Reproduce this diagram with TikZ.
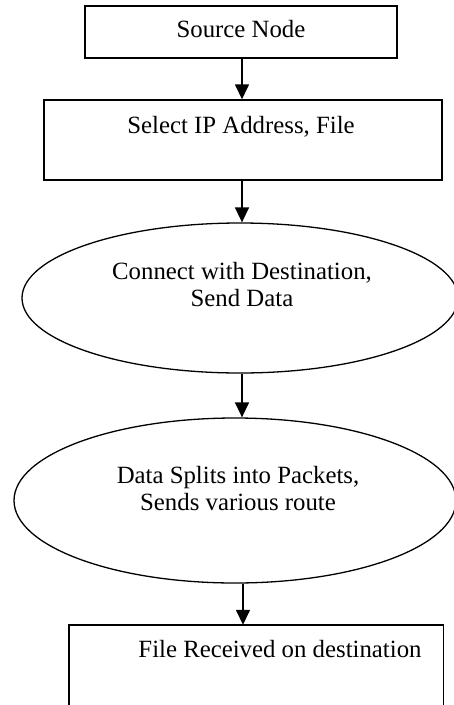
\documentclass[tikz,border=0pt]{standalone}
\usepackage{fontspec}
\setmainfont{Liberation Serif}
\usetikzlibrary{shapes.geometric,arrows.meta}
\begin{document}
\begin{tikzpicture}[x=1pt,y=-1pt,
  lbl/.style={font=\fontsize{24.8}{27}\selectfont, inner sep=0pt, align=center},
  boxshape/.style={draw, line width=1.4pt, rectangle, inner sep=0pt},
  ellshape/.style={draw, line width=1.3pt, ellipse, inner sep=0pt},
  flow/.style={line width=1.5pt, -{Triangle[length=15pt,width=14pt]}}]
\clip (0,0) rectangle (454,705);
\fill[white] (0,0) rectangle (454,705);
% shapes
\node[boxshape, line width=2pt, minimum width=312pt, minimum height=52pt] (b1) at (241,32) {};
\node[boxshape, minimum width=398pt, minimum height=80pt] (b2) at (243,140) {};
\node[ellshape, minimum width=436pt, minimum height=150pt] (e1) at (240,298) {};
\node[ellshape, minimum width=442pt, minimum height=165pt] (e2) at (235,500.5) {};
\node[inner sep=0pt, minimum width=374pt, minimum height=100pt] (b3) at (256,675) {};
\draw[line width=1.4pt] (b3.south west) -- (b3.north west) -- (b3.north east) -- (b3.south east);
% texts
\node[lbl, anchor=base] (t1) at (241,37.5) {Source Node};
\node[lbl, anchor=base] (t2) at (241,133) {Select IP Address, File};
\node[lbl] (t3) at (242,285) {Connect with Destination,\\Send Data};
\node[lbl] (t4) at (238,489) {Data Splits into Packets,\\Sends various route};
\node[lbl, anchor=base] (t5) at (280,657) {File Received on destination};
% connectors along the vertical axis
\coordinate (axis) at (242,0);
\coordinate (axisb) at (243,0);
\draw[flow] (b1.south -| axis) -- (b2.north -| axis);
\draw[flow] (b2.south -| axis) -- (e1.north -| axis);
\draw[flow] (e1.south -| axis) -- (e2.north -| axis);
\draw[flow] (e2.south -| axisb) -- (b3.north -| axisb);
\end{tikzpicture}
\end{document}
